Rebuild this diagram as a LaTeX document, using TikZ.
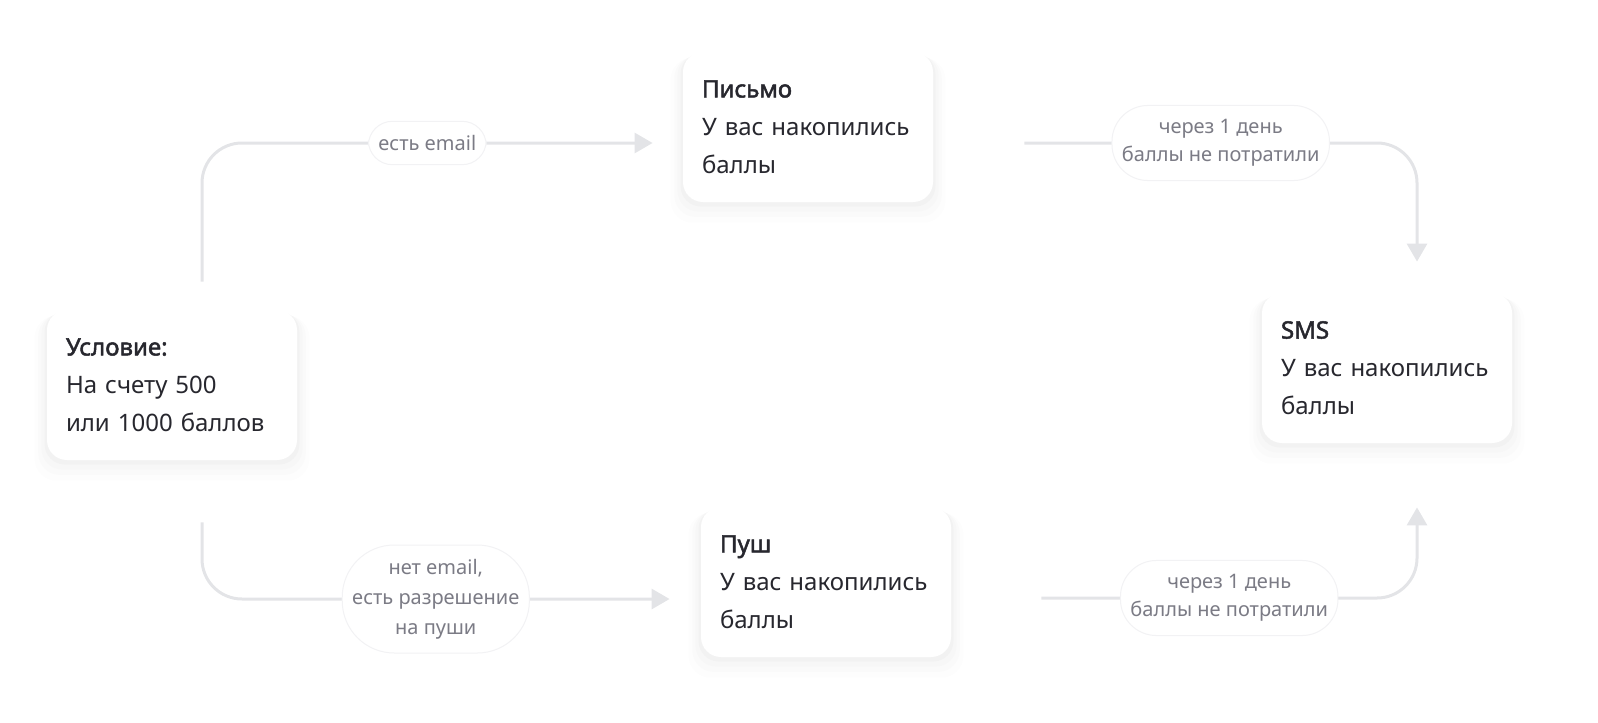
\documentclass[tikz,border=0pt]{standalone}
\usepackage{fontspec}
\setmainfont{Noto Sans}[AutoFakeBold=2]
\usepackage{tikz}
\usetikzlibrary{arrows.meta,calc,shadows}

\definecolor{ink}{HTML}{27272E}
\definecolor{muted}{HTML}{7B7B85}
\definecolor{wire}{HTML}{E3E4E7}
\definecolor{rim}{HTML}{F2F2F4}

\begin{document}
\begin{tikzpicture}[x=0.5pt, y=-0.5pt, >=Stealth,
    card/.style={fill=white, rounded corners=10pt, minimum width=125pt, minimum height=75pt,
      text width=106pt, inner xsep=9.5pt, align=left, text=ink,
      font=\fontsize{12}{19}\selectfont,
      drop shadow={shadow xshift=0pt, shadow yshift=-6pt, shadow scale=1.10, opacity=0.008, fill=black},
      drop shadow={shadow xshift=0pt, shadow yshift=-4.5pt, shadow scale=1.07, opacity=0.010, fill=black},
      drop shadow={shadow xshift=0pt, shadow yshift=-3pt, shadow scale=1.045, opacity=0.013, fill=black},
      drop shadow={shadow xshift=0pt, shadow yshift=-1.5pt, shadow scale=1.02, opacity=0.018, fill=black}},
    tag/.style={fill=white, draw=rim, line width=0.5pt, rounded corners=12pt,
      inner xsep=5pt, inner ysep=7pt, align=center, text=muted,
      font=\fontsize{10}{14}\selectfont},
    flow/.style={draw=wire, line width=1.5pt, rounded corners=20pt,
      -{Triangle[length=9pt,width=10pt]}}
  ]
  \useasboundingbox (0,0) rectangle (1598,722);

  \node[card] (cond) at (172,385) {\textbf{Условие:}\\На счету 500\\или 1000 баллов};
  \node[card] (letter) at (808,127) {\textbf{Письмо}\\У вас накопились\\баллы};
  \node[card] (push) at (826,582) {\textbf{Пуш}\\У вас накопились\\баллы};
  \node[card] (sms) at (1387,368) {\textbf{SMS}\\У вас накопились\\баллы};

  % branches from the condition
  \draw[flow] ($(cond.north)+(30,-28)$) |- ($(letter.west)+(-30,16)$)
    node[tag, pos=0.75] (email) {есть email};
  \draw[flow] ($(cond.south)+(30,62)$) |- ($(push.west)+(-31,17)$)
    node[tag, pos=0.75, rounded corners=26pt, font=\fontsize{10}{15}\selectfont] (noemail)
    {нет email,\\есть разрешение\\на пуши};

  % fallback to SMS
  \draw[flow] ($(letter.east)+(91,16)$) -| ($(sms.north)+(30,-31)$)
    node[tag, pos=0.25, rounded corners=18pt] (wait1) {через 1 день\\баллы не потратили};
  \draw[flow] ($(push.east)+(90,16)$) -| ($(sms.south)+(30,64)$)
    node[tag, pos=0.25, rounded corners=18pt] (wait2) {через 1 день\\баллы не потратили};
\end{tikzpicture}
\end{document}
